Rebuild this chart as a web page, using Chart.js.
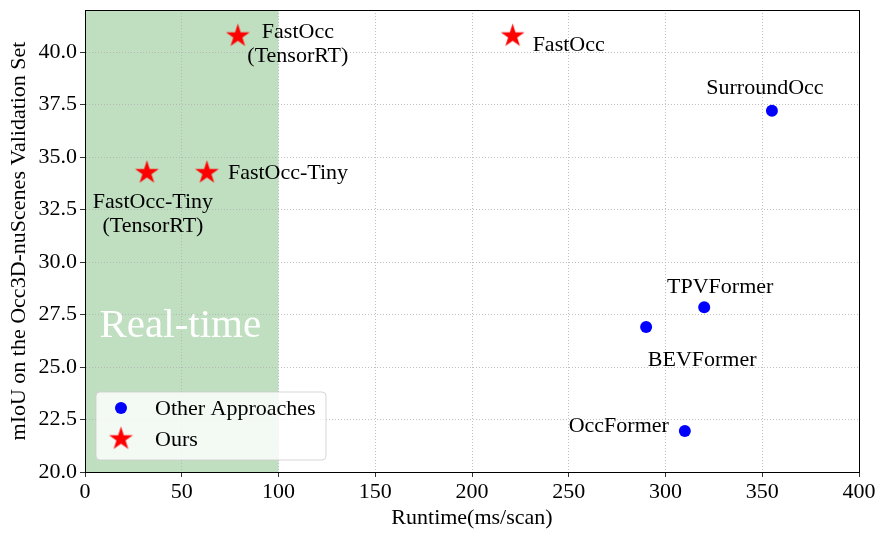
<!DOCTYPE html>
<html lang="en">
<head>
    <meta charset="UTF-8">
    <script src="https://cdn.jsdelivr.net/npm/chart.js"></script>
    <title>FastOcc runtime vs mIoU</title>
    <style>
        html, body { margin: 0; padding: 0; background: #fff; }
        #wrap { width: 885px; height: 537px; }
    </style>
</head>
<body>
    <div id="wrap"><canvas id="scatterChart" width="885" height="537"></canvas></div>

    <script>
        // data
        const otherNames = ['SurroundOcc', 'TPVFormer', 'BEVFormer', 'OccFormer'];
        const otherRuntime = [355, 320, 290, 310];
        const otherMiou = [37.2, 27.85, 26.9, 21.95];

        const oursNames = ['FastOcc', 'FastOcc\n(TensorRT)', 'FastOcc-Tiny', 'FastOcc-Tiny\n(TensorRT)'];
        const oursRuntime = [221, 79, 63, 32];
        const oursMiou = [40.76, 40.76, 34.25, 34.25];

        const xTicks = [0, 50, 100, 150, 200, 250, 300, 350, 400];
        const yTicks = [20, 22.5, 25, 27.5, 30, 32.5, 35, 37.5, 40];
        const realTimeLimit = 100;

        // label placement (pixel offsets from the marker)
        const otherLabelPos = [[-7, -23, 'center'], [16, -20, 'center'], [56, 33, 'center'], [-16, -5, 'right']];
        const oursLabelPos = [[20, 9, 'left'], [60, -4, 'center'], [21, 0, 'left'], [6, 29, 'center']];

        const FONT = '"Liberation Serif", "DejaVu Serif", serif';
        const FS = 22;

        function makeStar(r) {
            var c = document.createElement('canvas');
            var s = Math.ceil(r * 2 + 2);
            c.width = s; c.height = s;
            var g = c.getContext('2d');
            var inner = r * 0.382;
            g.beginPath();
            for (var i = 0; i < 10; i++) {
                var rad = i % 2 === 0 ? r : inner;
                var a = -Math.PI / 2 + i * Math.PI / 5;
                var px = s / 2 + rad * Math.cos(a);
                var py = s / 2 + rad * Math.sin(a);
                if (i === 0) g.moveTo(px, py); else g.lineTo(px, py);
            }
            g.closePath();
            g.fillStyle = '#ff0000';
            g.fill();
            return c;
        }
        var starImg = makeStar(12.5);

        var bandPlugin = {
            id: 'band',
            beforeDraw(chart) {
                var ctx = chart.ctx, a = chart.chartArea, x = chart.scales.x;
                ctx.save();
                ctx.fillStyle = 'rgb(192,223,192)';
                var x0 = x.getPixelForValue(0), x1 = x.getPixelForValue(realTimeLimit);
                ctx.fillRect(x0, a.top, x1 - x0, a.bottom - a.top);
                ctx.restore();
            }
        };

        function drawLabel(ctx, text, px, py, pos) {
            var lines = text.split('\n');
            ctx.textAlign = pos[2];
            ctx.textBaseline = 'middle';
            lines.forEach(function (ln, i) {
                ctx.fillText(ln, px + pos[0], py + pos[1] + i * 24);
            });
        }

        var annotPlugin = {
            id: 'annot',
            afterDatasetsDraw(chart) {
                var ctx = chart.ctx, a = chart.chartArea, x = chart.scales.x, y = chart.scales.y;
                ctx.save();
                // Real-time text
                ctx.fillStyle = '#ffffff';
                ctx.font = '41px ' + FONT;
                ctx.textAlign = 'left';
                ctx.textBaseline = 'alphabetic';
                ctx.fillText('Real-time', x.getPixelForValue(7.5), y.getPixelForValue(26.45));

                ctx.fillStyle = '#000';
                ctx.font = FS + 'px ' + FONT;
                otherNames.forEach(function (n, i) {
                    drawLabel(ctx, n, x.getPixelForValue(otherRuntime[i]), y.getPixelForValue(otherMiou[i]), otherLabelPos[i]);
                });
                oursNames.forEach(function (n, i) {
                    drawLabel(ctx, n, x.getPixelForValue(oursRuntime[i]), y.getPixelForValue(oursMiou[i]), oursLabelPos[i]);
                });

                // frame
                ctx.strokeStyle = '#000';
                ctx.lineWidth = 1;
                ctx.strokeRect(Math.round(a.left) + 0.5, Math.round(a.top) + 0.5, Math.round(a.right - a.left), Math.round(a.bottom - a.top));

                // legend
                var lx = a.left + 11, ly = a.bottom - 80, lw = 230, lh = 68;
                ctx.beginPath();
                ctx.roundRect(lx, ly, lw, lh, 4);
                ctx.fillStyle = 'rgba(255,255,255,0.8)';
                ctx.fill();
                ctx.strokeStyle = 'rgba(204,204,204,0.8)';
                ctx.stroke();
                ctx.fillStyle = '#0000ff';
                ctx.beginPath();
                ctx.arc(lx + 25, ly + 16, 6, 0, Math.PI * 2);
                ctx.fill();
                ctx.drawImage(starImg, lx + 25 - starImg.width / 2, ly + 47 - starImg.height / 2);
                ctx.fillStyle = '#000';
                ctx.font = FS + 'px ' + FONT;
                ctx.textAlign = 'left';
                ctx.textBaseline = 'middle';
                ctx.fillText('Other Approaches', lx + 59, ly + 17);
                ctx.fillText('Ours', lx + 59, ly + 48);
                ctx.restore();
            }
        };

        var gridStyle = {
            color: '#b0b0b0',
            lineWidth: 0.8,
            tickColor: '#000',
            tickLength: 5,
        };

        new Chart(document.getElementById('scatterChart').getContext('2d'), {
            type: 'scatter',
            data: {
                datasets: [{
                    label: 'Other Approaches',
                    data: otherRuntime.map((v, i) => ({ x: v, y: otherMiou[i] })),
                    backgroundColor: '#0000ff',
                    borderWidth: 0,
                    pointRadius: 6,
                    pointHoverRadius: 6
                }, {
                    label: 'Ours',
                    data: oursRuntime.map((v, i) => ({ x: v, y: oursMiou[i] })),
                    pointStyle: starImg,
                    backgroundColor: '#ff0000'
                }]
            },
            options: {
                responsive: false,
                animation: false,
                events: [],
                layout: { padding: { top: 10, right: 26, left: 0, bottom: 0 } },
                plugins: { legend: { display: false }, tooltip: { enabled: false } },
                scales: {
                    x: {
                        type: 'linear',
                        min: 0, max: 400,
                        afterBuildTicks: s => { s.ticks = xTicks.map(v => ({ value: v })); },
                        afterFit: s => { s.height = 65; s.paddingLeft = 0; s.paddingRight = 0; },
                        grid: Object.assign({}, gridStyle),
                        border: { display: true, color: '#000', dash: [1, 2] },
                        ticks: { color: '#000', font: { family: FONT, size: FS }, padding: 2, maxRotation: 0 },
                        title: { display: true, text: 'Runtime(ms/scan)', color: '#000', font: { family: FONT, size: FS }, padding: { top: 0, bottom: 6 } }
                    },
                    y: {
                        type: 'linear',
                        min: 20, max: 42,
                        afterBuildTicks: s => { s.ticks = yTicks.map(v => ({ value: v })); },
                        afterFit: s => { s.width = 85; s.paddingTop = 0; s.paddingBottom = 0; },
                        grid: Object.assign({}, gridStyle),
                        border: { display: true, color: '#000', dash: [1, 2] },
                        ticks: { color: '#000', font: { family: FONT, size: FS }, padding: 3, callback: v => v.toFixed(1) },
                        title: { display: true, text: 'mIoU on the Occ3D-nuScenes Validation Set', color: '#000', font: { family: FONT, size: FS }, padding: { top: 6, bottom: 0 } }
                    }
                }
            },
            plugins: [bandPlugin, annotPlugin]
        });
    </script>
</body>
</html>
